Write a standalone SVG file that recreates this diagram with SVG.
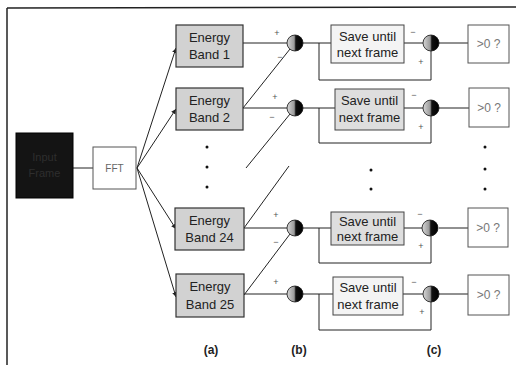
<svg xmlns="http://www.w3.org/2000/svg" width="516" height="368" viewBox="0 0 516 368">
<style>
.ln{stroke:#222;stroke-width:1;fill:none}
.band rect{fill:#d2d2d2;stroke:#333;stroke-width:1.2}
.save rect{stroke:#444;stroke-width:1}
.cmp rect{fill:#fff;stroke:#555;stroke-width:1}
.t{font-family:"Liberation Sans",Arial,sans-serif;font-size:13px;fill:#222;text-anchor:middle}
.tg{font-family:"Liberation Sans",Arial,sans-serif;font-size:12px;fill:#777;text-anchor:middle}
.pm{font-family:"Liberation Sans",Arial,sans-serif;font-size:9px;fill:#555;text-anchor:middle}
.lab{font-family:"Liberation Sans",Arial,sans-serif;font-size:12px;font-weight:bold;fill:#222;text-anchor:middle}
.dot{fill:#111}
.sum{fill:url(#sg);stroke:#111;stroke-width:0.8}
</style>
<defs>
<linearGradient id="sg" x1="0" y1="0" x2="1" y2="0">
<stop offset="0" stop-color="#d8d8d8"/>
<stop offset="0.45" stop-color="#9a9a9a"/>
<stop offset="0.55" stop-color="#111"/>
<stop offset="1" stop-color="#000"/>
</linearGradient>
<marker id="ah" markerWidth="6" markerHeight="6" refX="5" refY="3" orient="auto" markerUnits="userSpaceOnUse">
<path d="M0,0.5 L5,3 L0,5.5 z" fill="#222"/>
</marker>
</defs>

<g id="frame-border">
<line class="ln" x1="7" y1="8" x2="516" y2="7" style="stroke-width:1.5"/>
<line class="ln" x1="7" y1="8" x2="7" y2="365" style="stroke-width:1.5"/>
</g>

<g id="connectors">
<line class="ln" x1="73" y1="168" x2="93" y2="168"/>
<line class="ln" x1="137" y1="168" x2="176" y2="48" marker-end="url(#ah)"/>
<line class="ln" x1="137" y1="168" x2="176" y2="109" marker-end="url(#ah)"/>
<line class="ln" x1="137" y1="168" x2="176" y2="229" marker-end="url(#ah)"/>
<line class="ln" x1="137" y1="168" x2="176" y2="297" marker-end="url(#ah)"/>
<line class="ln" x1="243" y1="43" x2="287" y2="43"/>
<line class="ln" x1="243" y1="108" x2="290" y2="49"/>
<line class="ln" x1="303" y1="43" x2="331" y2="43"/>
<polyline class="ln" points="319,43 319,80 431,80 431,51"/>
<line class="ln" x1="404" y1="43" x2="423" y2="43"/>
<line class="ln" x1="439" y1="43" x2="468" y2="43"/>
<line class="ln" x1="243" y1="108" x2="287" y2="108"/>
<line class="ln" x1="246" y1="168" x2="290" y2="114"/>
<line class="ln" x1="303" y1="108" x2="335" y2="108"/>
<polyline class="ln" points="319,108 319,143 431,143 431,116"/>
<line class="ln" x1="404" y1="108" x2="423" y2="108"/>
<line class="ln" x1="439" y1="108" x2="469" y2="108"/>
<line class="ln" x1="244" y1="228" x2="289" y2="166"/>
<line class="ln" x1="244" y1="228" x2="287" y2="228"/>
<line class="ln" x1="244" y1="295" x2="290" y2="234"/>
<line class="ln" x1="303" y1="228" x2="331" y2="228"/>
<polyline class="ln" points="319,228 319,263 431,263 431,236"/>
<line class="ln" x1="404" y1="228" x2="422" y2="228"/>
<line class="ln" x1="439" y1="228" x2="468" y2="228"/>
<line class="ln" x1="244" y1="294" x2="287" y2="294"/>
<line class="ln" x1="303" y1="294" x2="333" y2="294"/>
<polyline class="ln" points="319,294 319,330 431,330 431,302"/>
<line class="ln" x1="403" y1="294" x2="423" y2="294"/>
<line class="ln" x1="439" y1="294" x2="468" y2="294"/>
</g>

<g id="input-frame">
<rect x="16" y="133" width="57" height="65" fill="#141414" stroke="#000"/>
<text x="44.5" y="161" style="font-family:'Liberation Sans',Arial,sans-serif;font-size:11px;fill:#2e2e2e;text-anchor:middle">Input</text>
<text x="44.5" y="177" style="font-family:'Liberation Sans',Arial,sans-serif;font-size:11px;fill:#2e2e2e;text-anchor:middle">Frame</text>
</g>

<g id="fft">
<rect x="93" y="147" width="43" height="42" fill="#fff" stroke="#555"/>
<text x="114.5" y="172" style="font-family:'Liberation Sans',Arial,sans-serif;font-size:10px;fill:#666;text-anchor:middle">FFT</text>
</g>

<g id="band1" class="band"><rect x="176" y="25" width="67" height="42"/><text class="t" x="209.5" y="42">Energy</text><text class="t" x="209.5" y="59">Band 1</text></g>
<g id="band2" class="band"><rect x="176" y="88" width="67" height="42"/><text class="t" x="209.5" y="105">Energy</text><text class="t" x="209.5" y="122">Band 2</text></g>
<g id="band24" class="band"><rect x="175" y="208" width="69" height="42"/><text class="t" x="209.5" y="225">Energy</text><text class="t" x="209.5" y="242">Band 24</text></g>
<g id="band25" class="band"><rect x="176" y="274" width="68" height="43"/><text class="t" x="210" y="291">Energy</text><text class="t" x="210" y="309">Band 25</text></g>

<g id="dots">
<circle class="dot" cx="207" cy="147" r="1.5"/><circle class="dot" cx="207" cy="167" r="1.5"/><circle class="dot" cx="207" cy="187" r="1.5"/>
<circle class="dot" cx="371" cy="170" r="1.5"/><circle class="dot" cx="371" cy="189" r="1.5"/>
<circle class="dot" cx="485" cy="147" r="1.5"/><circle class="dot" cx="485" cy="169" r="1.5"/><circle class="dot" cx="485" cy="189" r="1.5"/>
</g>

<g id="sum-b1"><circle class="sum" cx="295" cy="43" r="8"/><text class="pm" x="277" y="36">+</text><text class="pm" x="280" y="60">−</text></g>
<g id="sum-b2"><circle class="sum" cx="295" cy="108" r="8"/><text class="pm" x="275" y="100">+</text><text class="pm" x="272" y="120">−</text></g>
<g id="sum-b24"><circle class="sum" cx="295" cy="228" r="8"/><text class="pm" x="276" y="218">+</text><text class="pm" x="276" y="245">−</text></g>
<g id="sum-b25"><circle class="sum" cx="295" cy="294" r="8"/><text class="pm" x="276" y="285">+</text></g>

<g id="save1" class="save"><rect x="331" y="25" width="73" height="38" fill="#f4f4f4"/><text class="t" x="367.5" y="41">Save until</text><text class="t" x="367.5" y="57">next frame</text></g>
<g id="save2" class="save"><rect x="335" y="89" width="69" height="41" fill="#dedede"/><text class="t" x="369.5" y="105">Save until</text><text class="t" x="369.5" y="122">next frame</text></g>
<g id="save24" class="save"><rect x="331" y="212" width="73" height="33" fill="#dedede"/><text class="t" x="367.5" y="226">Save until</text><text class="t" x="367.5" y="241">next frame</text></g>
<g id="save25" class="save"><rect x="333" y="277" width="70" height="38" fill="#f4f4f4"/><text class="t" x="368" y="292">Save until</text><text class="t" x="368" y="309">next frame</text></g>

<g id="sum-c1"><circle class="sum" cx="431" cy="43" r="8"/><text class="pm" x="413" y="35">−</text><text class="pm" x="421" y="65">+</text></g>
<g id="sum-c2"><circle class="sum" cx="431" cy="108" r="8"/><text class="pm" x="414" y="98">−</text><text class="pm" x="421" y="130">+</text></g>
<g id="sum-c24"><circle class="sum" cx="430" cy="228" r="8"/><text class="pm" x="420" y="217">−</text><text class="pm" x="421" y="249">+</text></g>
<g id="sum-c25"><circle class="sum" cx="431" cy="294" r="8"/><text class="pm" x="414" y="285">−</text><text class="pm" x="422" y="315">+</text></g>

<g id="cmp1" class="cmp"><rect x="468" y="25" width="41" height="38"/><text class="tg" x="488.5" y="48">&gt;0 ?</text></g>
<g id="cmp2" class="cmp"><rect x="469" y="88" width="40" height="39"/><text class="tg" x="489" y="112">&gt;0 ?</text></g>
<g id="cmp24" class="cmp"><rect x="468" y="208" width="40" height="39"/><text class="tg" x="488" y="232">&gt;0 ?</text></g>
<g id="cmp25" class="cmp"><rect x="468" y="275" width="41" height="40"/><text class="tg" x="488.5" y="299">&gt;0 ?</text></g>

<g id="labels">
<text class="lab" x="211" y="354">(a)</text>
<text class="lab" x="299" y="354">(b)</text>
<text class="lab" x="434" y="354">(c)</text>
</g>
</svg>
